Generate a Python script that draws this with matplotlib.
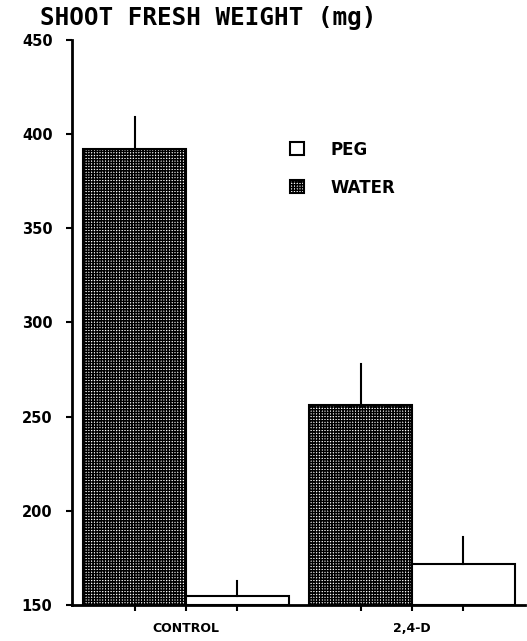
import matplotlib
matplotlib.use("Agg")
import matplotlib.pyplot as plt
import numpy as np

categories = ["CONTROL", "2,4-D"]
water_vals = [392, 256]
water_err = [17, 22]
peg_vals = [155, 172]
peg_err = [8, 14]
y_ticks = [150, 200, 250, 300, 350, 400, 450]

plt.rcParams['hatch.linewidth'] = 1.05
plt.rcParams['font.family'] = ['DejaVu Sans']

fig = plt.figure(figsize=(5.27, 6.41), dpi=100)
ax = fig.add_axes([72/527, 1-605/641, (525-72)/527, (605-40)/641])

x = np.arange(len(categories))
w = 0.455
ax.bar(x - w/2, np.array(water_vals) - 150, w, bottom=150, facecolor='white',
       edgecolor='black', hatch='++++++', linewidth=1.5, label='WATER')
ax.bar(x + w/2, np.array(peg_vals) - 150, w, bottom=150, facecolor='white',
       edgecolor='black', linewidth=1.5, label='PEG')
for xi, v, e in zip(x - w/2, water_vals, water_err):
    ax.plot([xi, xi], [v, v + e], color='black', lw=1.5)
for xi, v, e in zip(x + w/2, peg_vals, peg_err):
    ax.plot([xi, xi], [v, v + e], color='black', lw=1.5)

ax.set_ylim(150, 450)
ax.set_xlim(-0.504, 1.5)
ax.set_yticks(y_ticks)
ax.set_yticklabels([str(t) for t in y_ticks], fontsize=10.5, fontweight='bold')
ax.set_xticks(x)
ax.set_xticklabels(categories, fontsize=9, fontweight='bold')
ax.tick_params(axis='x', length=4, width=1.5, pad=8)
ax.tick_params(axis='y', length=4, width=1.5, pad=10)
ax.set_xticks(np.concatenate([x - w/2, x + w/2]), minor=True)
ax.tick_params(axis='x', which='minor', length=4, width=1.5)
for s in ['top', 'right']:
    ax.spines[s].set_visible(False)
for s in ['left', 'bottom']:
    ax.spines[s].set_linewidth(2)

h, l = ax.get_legend_handles_labels()
leg = ax.legend([h[1], h[0]], [l[1], l[0]], loc='upper left',
                bbox_to_anchor=(0.481, 0.822), frameon=False,
                borderaxespad=0, borderpad=0,
                handlelength=0.85, handleheight=0.85, handletextpad=1.6,
                labelspacing=1.2, prop={'size': 12, 'weight': 'bold'})

fig.text(40/527, 1-18/641, "SHOOT FRESH WEIGHT (mg)", fontsize=17.5,
         family='DejaVu Sans Mono', fontweight='bold', va='center', ha='left')

fig.savefig("out.png", dpi=100)
